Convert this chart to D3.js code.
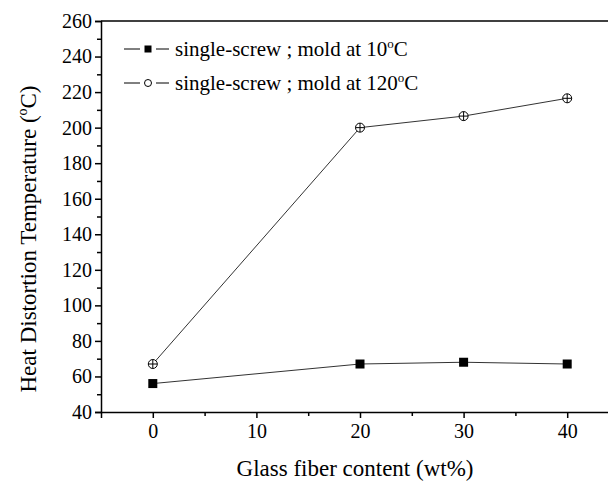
<!DOCTYPE html>
<html><head><meta charset="utf-8">
<script src="https://cdn.jsdelivr.net/npm/d3@7"></script>
</head><body style="margin:0;background:#fff">
<svg id="c" width="608" height="482" style="display:block"></svg>
<script>
const fiber = [0, 20, 30, 40];
const mold10 = [56, 67, 68, 67];
const mold120 = [67, 200, 206.5, 216.5];
const yTicks = [40, 60, 80, 100, 120, 140, 160, 180, 200, 220, 240, 260];
const xTicks = [0, 10, 20, 30, 40];
const legendLabels = ["single-screw ; mold at 10", "single-screw ; mold at 120"];

const FONT = '"Liberation Serif"';
const svg = d3.select("#c");
const x = d3.scaleLinear().domain([-5, 45]).range([101, 619]);
const y = d3.scaleLinear().domain([40, 260]).range([412, 21]);

svg.append("line").attr("x1", 101).attr("x2", 608).attr("y1", y(260)).attr("y2", y(260))
  .attr("stroke", "#000").attr("stroke-width", 1.5);

const yAxis = d3.axisLeft(y).tickValues(yTicks).tickSize(6).tickPadding(3);
const yMinor = d3.axisLeft(y).tickValues(d3.range(50, 260, 20)).tickSize(4).tickFormat("");
const xAxis = d3.axisBottom(x).tickValues(xTicks).tickSize(6).tickPadding(6);
const xMinor = d3.axisBottom(x).tickValues([5, 15, 25, 35, 45]).tickSize(4).tickFormat("");

function style(g){
  g.attr("font-family", FONT).attr("font-size", 20);
  g.select(".domain").attr("stroke", "#000").attr("stroke-width", 1.5);
  g.selectAll(".tick line").attr("stroke", "#000").attr("stroke-width", 1.5);
  g.selectAll(".tick text").style("font-family", FONT).style("font-size", "20px").attr("fill", "#000");
}
svg.append("g").attr("transform", "translate(101,0)").call(yMinor).call(style).select(".domain").remove();
svg.append("g").attr("transform", "translate(101,0)").call(yAxis).call(style);
svg.append("g").attr("transform", "translate(0,412)").call(xMinor).call(style).select(".domain").remove();
svg.append("g").attr("transform", "translate(0,412)").call(xAxis).call(style);

svg.append("text").attr("x", 355).attr("y", 476).attr("text-anchor", "middle")
  .style("font-family", FONT).style("font-size", "23px").text("Glass fiber content (wt%)");
const yt = svg.append("text").attr("transform", "translate(36,239) rotate(-90)").attr("text-anchor", "middle")
  .style("font-family", FONT).style("font-size", "23px");
yt.append("tspan").text("Heat Distortion Temperature (");
yt.append("tspan").attr("dy", -9).style("font-size", "14px").text("o");
yt.append("tspan").attr("dy", 9).text("C)");

const line = d3.line().x((d, i) => x(fiber[i])).y(d => y(d));
[mold10, mold120].forEach(s => {
  svg.append("path").attr("d", line(s)).attr("fill", "none").attr("stroke", "#333").attr("stroke-width", 1);
});

svg.selectAll(".sq").data(mold10).enter().append("rect")
  .attr("x", (d, i) => x(fiber[i]) - 4.5).attr("y", d => y(d) - 4.5)
  .attr("width", 9).attr("height", 9).attr("fill", "#000");
const circ = svg.selectAll(".ci").data(mold120).enter().append("g")
  .attr("transform", (d, i) => `translate(${x(fiber[i])},${y(d)})`);
circ.append("circle").attr("r", 4.5).attr("fill", "#fff").attr("stroke", "#000").attr("stroke-width", 1);
circ.append("line").attr("x1", -4.5).attr("x2", 4.5).attr("stroke", "#000").attr("stroke-width", 1);
circ.append("line").attr("y1", -4.5).attr("y2", 4.5).attr("stroke", "#000").attr("stroke-width", 1);

const ly = [49, 83];
legendLabels.forEach((lab, i) => {
  const g = svg.append("g").attr("transform", `translate(0,${ly[i]})`);
  g.append("line").attr("x1", 124).attr("x2", 140).attr("stroke", "#000").attr("stroke-width", 1);
  g.append("line").attr("x1", 156).attr("x2", 169).attr("stroke", "#000").attr("stroke-width", 1);
  if (i === 0) g.append("rect").attr("x", 144.5).attr("y", -3.5).attr("width", 7).attr("height", 7).attr("fill", "#000");
  else g.append("circle").attr("cx", 148).attr("r", 3.5).attr("fill", "#fff").attr("stroke", "#000").attr("stroke-width", 1);
  const t = g.append("text").attr("x", 175).attr("y", 7).style("font-family", FONT).style("font-size", "21px");
  t.append("tspan").text(lab);
  t.append("tspan").attr("dy", -8).style("font-size", "13px").text("o");
  t.append("tspan").attr("dy", 8).text("C");
});
</script>
</body></html>
